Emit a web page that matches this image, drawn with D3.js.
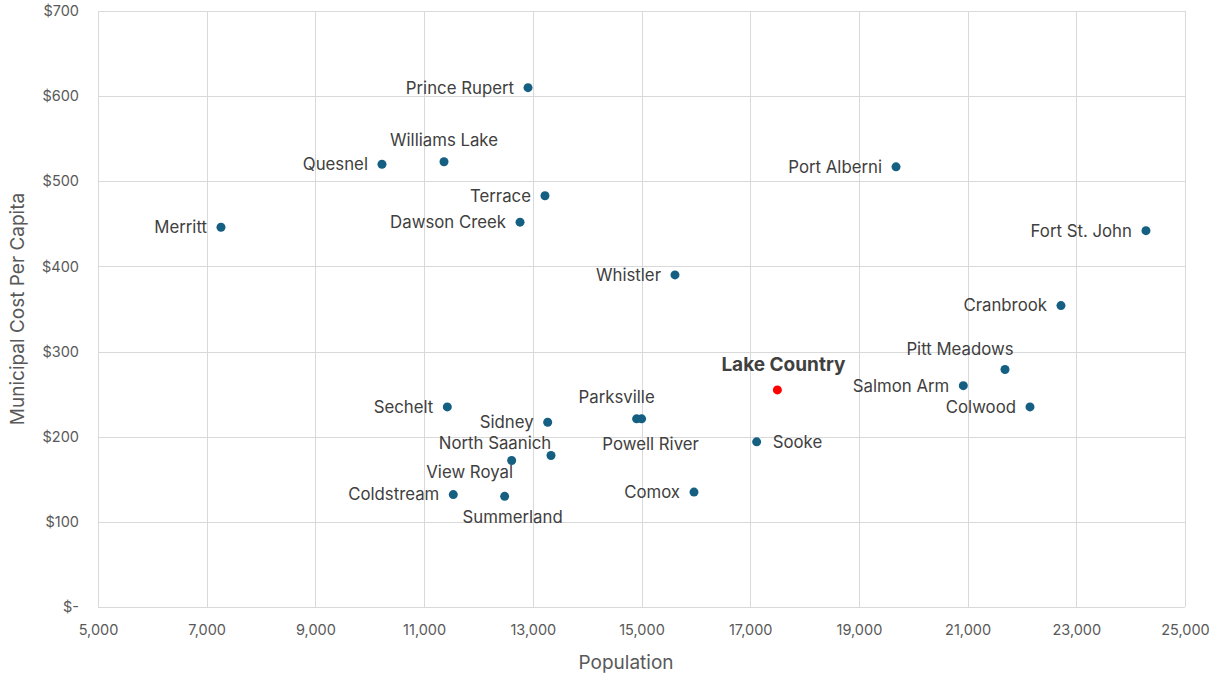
<!DOCTYPE html>
<html>
<head>
<meta charset="utf-8">
<script src="https://cdn.jsdelivr.net/npm/d3@7"></script>
<style>
  html, body { margin: 0; padding: 0; background: #fff; }
  svg { display: block; }
  text { font-family: Inter, "Open Sans", sans-serif; }
</style>
</head>
<body>
<svg id="chart" width="1215" height="677"></svg>
<script>
// Municipalities, population and municipal cost per capita
const cities = ["Merritt", "Quesnel", "Williams Lake", "Sechelt", "Coldstream", "Summerland",
  "View Royal", "Dawson Creek", "Prince Rupert", "Terrace", "Sidney", "North Saanich",
  "Parksville", "Powell River", "Whistler", "Comox", "Sooke", "Lake Country",
  "Port Alberni", "Salmon Arm", "Pitt Meadows", "Colwood", "Cranbrook", "Fort St. John"];
const population = [7263, 10225, 11366, 11427, 11537, 12482,
  12611, 12765, 12912, 13224, 13274, 13335,
  14910, 15002, 15616, 15966, 17119, 17500,
  19683, 20921, 21688, 22148, 22718, 24282];
const costPerCapita = [446, 520, 523, 235, 132, 130,
  172, 452, 610, 483, 217, 178,
  221, 221, 390, 135, 194, 255,
  517, 260, 279, 235, 354, 442];
const highlight = "Lake Country";

// Axis ticks
const xTicks = [5000, 7000, 9000, 11000, 13000, 15000, 17000, 19000, 21000, 23000, 25000];
const yTicks = [0, 100, 200, 300, 400, 500, 600, 700];

// Where each data label sits relative to its point
const labelPlacement = {
  "Merritt": ["left"], "Quesnel": ["left"], "Williams Lake": ["above"], "Sechelt": ["left"],
  "Coldstream": ["left"], "Summerland": ["below", 8, -1], "View Royal": ["custom", -42, 12],
  "Dawson Creek": ["left"], "Prince Rupert": ["left"], "Terrace": ["left"], "Sidney": ["left"],
  "North Saanich": ["custom", -56, -12], "Parksville": ["above", -20, 0],
  "Powell River": ["below", 9, 3], "Whistler": ["left"], "Comox": ["left"], "Sooke": ["right"],
  "Lake Country": ["above", 6, -4], "Port Alberni": ["left"], "Salmon Arm": ["left"],
  "Pitt Meadows": ["custom", -45, -20], "Colwood": ["left"], "Cranbrook": ["left"],
  "Fort St. John": ["left"]
};

const svg = d3.select("#chart");
const margin = { left: 98, right: 30, top: 11, bottom: 70 };
const W = 1215, H = 677;

const x = d3.scaleLinear().domain([5000, 25000]).range([margin.left, W - margin.right]);
const y = d3.scaleLinear().domain([0, 700]).range([H - margin.bottom, margin.top]);

const gridColor = "#d9d9d9";

// Gridlines
svg.append("g").selectAll("line").data(xTicks).join("line")
  .attr("x1", d => Math.round(x(d)) + 0.5).attr("x2", d => Math.round(x(d)) + 0.5)
  .attr("y1", y(700)).attr("y2", y(0))
  .attr("stroke", gridColor).attr("stroke-width", 1);
svg.append("g").selectAll("line").data(yTicks).join("line")
  .attr("y1", d => Math.round(y(d)) + 0.5).attr("y2", d => Math.round(y(d)) + 0.5)
  .attr("x1", x(5000)).attr("x2", x(25000))
  .attr("stroke", gridColor).attr("stroke-width", 1);

// Axes (labels only; lines come from the grid)
const xAxis = d3.axisBottom(x).tickValues(xTicks).tickSize(0).tickPadding(18)
  .tickFormat(d3.format(","));
const gx = svg.append("g").attr("transform", `translate(0,${y(0)})`).call(xAxis);
gx.select(".domain").remove();
gx.selectAll("text").attr("fill", "#595959").style("font-size", "14.5px")
  .style("font-family", "Inter, sans-serif");

const yAxis = d3.axisLeft(y).tickValues(yTicks).tickSize(0).tickPadding(19)
  .tickFormat(d => d === 0 ? "$-" : "$" + d);
const gy = svg.append("g").attr("transform", `translate(${x(5000)},0)`).call(yAxis);
gy.select(".domain").remove();
gy.selectAll("text").attr("fill", "#595959").style("font-size", "14.5px")
  .style("font-family", "Inter, sans-serif");

// Axis titles
svg.append("text").attr("x", 626).attr("y", 669)
  .attr("text-anchor", "middle").attr("fill", "#595959").style("font-size", "19px")
  .text("Population");
svg.append("text")
  .attr("transform", `translate(24,${(y(0) + y(700)) / 2}) rotate(-90)`)
  .attr("text-anchor", "middle").attr("fill", "#595959").style("font-size", "19px")
  .text("Municipal Cost Per Capita");

const data = cities.map((c, i) => ({ city: c, pop: population[i], cost: costPerCapita[i] }));

// Points
svg.append("g").selectAll("circle").data(data).join("circle")
  .attr("cx", d => x(d.pop)).attr("cy", d => y(d.cost)).attr("r", 4.5)
  .attr("fill", d => d.city === highlight ? "#ff0000" : "#156082");

// Data labels
svg.append("g").selectAll("text").data(data).join("text")
  .each(function (d) {
    const p = labelPlacement[d.city] || ["left"];
    const kind = p[0], ox = p[1] || 0, oy = p[2] || 0;
    let lx = x(d.pop), ly = y(d.cost), anchor = "middle";
    if (kind === "left") { lx -= 14; anchor = "end"; }
    else if (kind === "right") { lx += 16; anchor = "start"; }
    else if (kind === "above") { ly -= 22; }
    else if (kind === "below") { ly += 22; }
    lx += ox; ly += oy;
    d3.select(this).attr("x", lx).attr("y", ly).attr("dy", "0.35em")
      .attr("text-anchor", anchor);
  })
  .attr("fill", "#404040")
  .style("font-size", d => d.city === highlight ? "19px" : "16.8px")
  .style("font-weight", d => d.city === highlight ? "bold" : "normal")
  .text(d => d.city);
</script>
</body>
</html>
